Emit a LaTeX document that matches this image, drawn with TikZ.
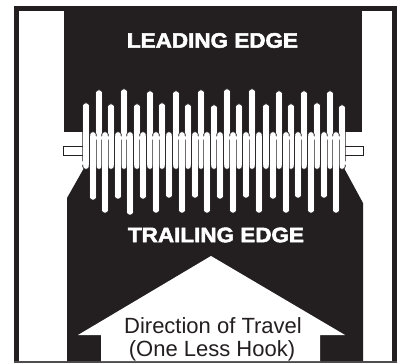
\documentclass[tikz,border=0pt]{standalone}
\usepackage{fontspec}
\setmainfont{Liberation Sans}
\newfontfamily\heavyfont[FakeBold=2.4]{Liberation Sans Bold}
\definecolor{ink}{HTML}{231F20}
\newcommand{\wide}[1]{\scalebox{1.07}[1]{#1}}
\tikzset{
  heading/.style={text=white,inner sep=0pt,font=\heavyfont\fontsize{21}{22}\selectfont},
  caption/.style={text=ink,inner sep=0pt,font=\fontsize{22}{23}\selectfont},
  tine/.style={fill=white,draw=ink,line width=0.7pt,rounded corners=2.4pt},
  knob/.style={fill=white,draw=ink,line width=0.7pt},
}
\begin{document}
\begin{tikzpicture}[x=1pt,y=-1pt]
\useasboundingbox (0,0) rectangle (404,363);
\fill[white] (0,0) rectangle (404,363);
% frame
\draw[ink,line width=5pt] (16.5,8.5) -- (394.5,8.5);
\draw[ink,line width=5pt] (16.5,6) -- (16.5,362);
\draw[ink,line width=5pt] (394.5,6) -- (394.5,362);
\draw[ink!80,line width=1.6pt] (14,362) -- (397,362);
% dark fields
\fill[ink] (63.5,11) -- (362,11) -- (362,132) -- (63.5,132) -- cycle;
\fill[ink] (84,168) -- (344,168) -- (363,203) -- (363,361) -- (67,361) -- (67,198) -- cycle;
% arrow
\fill[white] (211,256) -- (345,335) -- (320,335) -- (320,361) -- (101,361) -- (101,335) -- (78,335) -- cycle;
% shaft
\draw[ink,line width=0.8pt,fill=white] (84,146) -- (63.5,146) -- (63.5,155) -- (84,155);
\draw[ink,line width=0.8pt,fill=white] (344,146) -- (363,146) -- (363,155) -- (344,155);
% band core
\fill[ink] (89,130) rectangle (339,170);
% upper tines
\foreach \x/\t in {86/103,99/90,111/104,124/89,137/104,150/91,162/103,176/91,188/104,201/90,214/105,227/89,239/104,252/89,266/104,279/91,291/104,304/91,317/103,330/91,342/105}{
  \draw[tine] (\x-3.2,163) -- (\x-3.2,\t) -- (\x+3.2,\t) -- (\x+3.2,163) -- cycle;
  \fill[white] (\x-2.8,\t+2) rectangle (\x+2.8,161);
  \draw[knob] (\x,166) circle (3.4pt);
  \fill[white] (\x-2.8,160) rectangle (\x+2.8,165);
}
% lower tines
\foreach \x/\b in {93/200,105/213,118/199,130/215,143/199,156/213,169/198,182/213,195/198,207/213,220/199,233/213,246/198,259/213,273/199,286/213,298/198,311/213,324/198,336/213}{
  \draw[tine] (\x-3.2,138) -- (\x-3.2,\b) -- (\x+3.2,\b) -- (\x+3.2,138) -- cycle;
  \fill[white] (\x-2.8,140) rectangle (\x+2.8,\b-2);
  \draw[knob] (\x,135) circle (3.4pt);
  \fill[white] (\x-2.8,136) rectangle (\x+2.8,141);
}
% texts
\node[heading] (lead) at (212.5,40.5) {\wide{LEADING EDGE}};
\node[heading] (trail) at (216,235) {\wide{TRAILING EDGE}};
\node[caption,anchor=base] (dir) at (213,333) {Direction of Travel};
\node[caption,anchor=base] (hook) at (212,356) {(One Less Hook)};
\end{tikzpicture}
\end{document}
